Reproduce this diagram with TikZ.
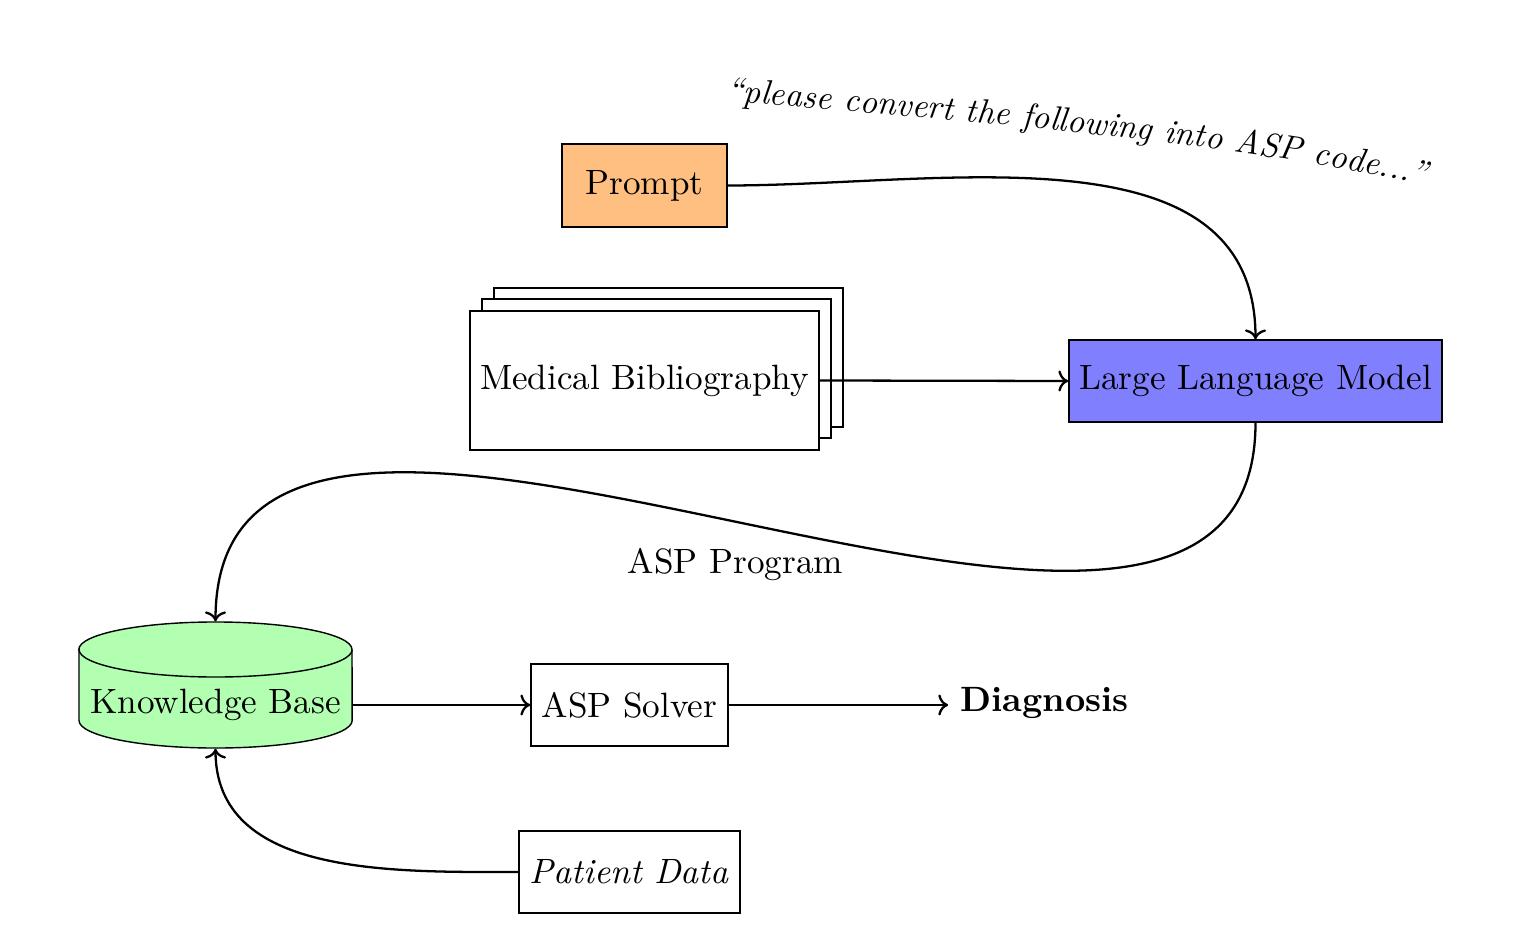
\documentclass[tikz,border=0pt]{standalone}
\usepackage{fontspec}
\usetikzlibrary{decorations.text,arrows.meta}
\begin{document}
\begin{tikzpicture}[x=0.01cm,y=0.01cm,
  box/.style={draw,rectangle,inner sep=0pt,font=\fontsize{10}{12}\selectfont},
  conn/.style={-{To[length=2.8pt,width=6pt]},line width=0.65pt}]
\useasboundingbox (0,0) rectangle (1531,-937);
% Prompt
\node[box,fill=orange!50,minimum width=1.65cm,minimum height=0.83cm] (prompt) at (644.5,-185.5) {Prompt};
% Medical bibliography (stacked)
\node[box,fill=white,minimum width=3.49cm,minimum height=1.39cm] (bib3) at (668.5,-357.5) {};
\node[box,fill=white,minimum width=3.49cm,minimum height=1.39cm] (bib2) at (656.5,-368.5) {};
\node[box,fill=white,minimum width=3.49cm,minimum height=1.39cm] (bib) at (644.5,-380.5) {Medical Bibliography};
% LLM
\node[box,fill=blue!50,minimum width=3.73cm,minimum height=0.82cm] (llm) at (1255.5,-381) {Large Language Model};
% Knowledge base cylinder
\draw[fill=green!30] (79,-649.5) -- (79,-720.5)
  arc[start angle=180,end angle=360,x radius=1.365cm,y radius=0.275cm]
  -- (352,-649.5)
  arc[start angle=0,end angle=180,x radius=1.365cm,y radius=0.275cm] -- cycle;
\draw (79,-649.5) arc[start angle=180,end angle=360,x radius=1.365cm,y radius=0.275cm];
\node[minimum width=2.73cm,minimum height=1.26cm,inner sep=0pt] (kb) at (215.5,-685) {};
\node[inner sep=0pt] (kbtext) at (215.5,-705) {Knowledge Base};
% Solver, diagnosis, patient data
\node[box,minimum width=1.97cm,minimum height=0.82cm] (solver) at (629.5,-705) {ASP Solver};
\node (diag) at (1044.5,-703) {\textbf{Diagnosis}};
\node[box,minimum width=2.21cm,minimum height=0.82cm] (patient) at (629.5,-872) {\textit{Patient Data}};
% connectors
\draw[conn] (prompt.east) to[out=0,in=90] (llm.north);
\draw[conn] (bib.east) -- (llm.west);
\draw[conn] (llm.south) to[out=-90,in=90] node[pos=0.5,below=0.13cm] (asplabel) {ASP Program} (kb.north);
\draw[conn] (kb.east |- solver.west) -- (solver.west);
\draw[conn] (solver.east) -- (solver.east -| diag.west);
\draw[conn] (patient.west) to[out=180,in=-90] (kb.south);
% curved quote
\path[decorate,decoration={text along path,text align=left,
  text={|\fontsize{9.7}{12}\selectfont\itshape|“please convert the following into ASP code...”}}]
  (726,-101) .. controls (950,-120) and (1240,-140) .. (1460,-193);
\end{tikzpicture}
\end{document}
